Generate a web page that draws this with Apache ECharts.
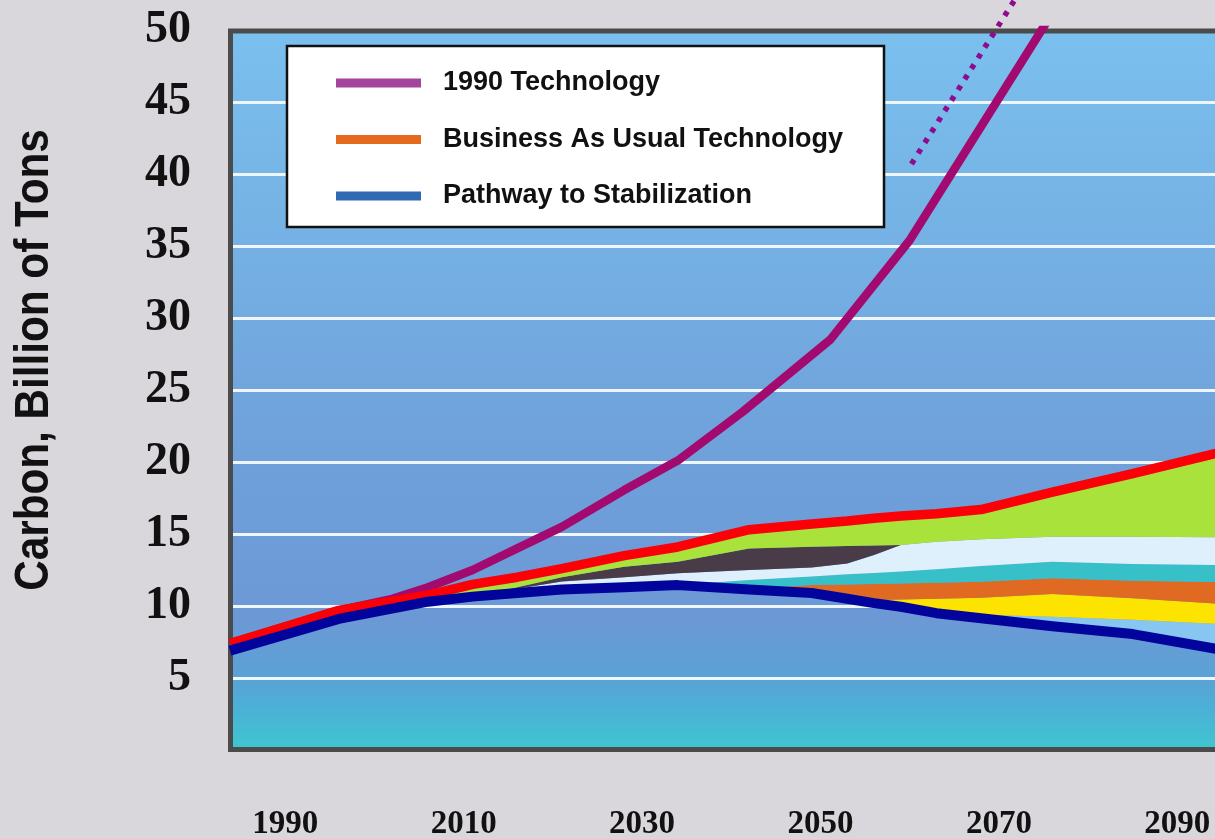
<!DOCTYPE html>
<html>
<head>
<meta charset="utf-8">
<script src="https://cdn.jsdelivr.net/npm/echarts@6/dist/echarts.min.js"></script>
<style>
html,body{margin:0;padding:0;background:#d9d6dc;}
#chart{width:1215px;height:839px;}
</style>
</head>
<body>
<div id="chart"></div>
<script>
// ---- data ----
const years      = [1983.8, 1996, 2006, 2011, 2016, 2021, 2028, 2034, 2042, 2049, 2053, 2056, 2059, 2063, 2068, 2076, 2085, 2095];
const pathway    = [6.9, 9.1, 10.3, 10.65, 10.9, 11.15, 11.3, 11.45, 11.15, 10.9, 10.5, 10.2, 9.95, 9.5, 9.15, 8.6, 8.05, 6.95];
const lightTop   = [6.9, 9.1, 10.3, 10.65, 10.9, 11.15, 11.3, 11.45, 11.15, 10.9, 10.5, 10.2, 10.0, 9.65, 9.4, 9.25, 9.05, 8.75];
const yellowTop  = [6.9, 9.1, 10.3, 10.65, 10.9, 11.15, 11.3, 11.45, 11.15, 10.9, 10.5, 10.42, 10.46, 10.5, 10.58, 10.83, 10.53, 10.15];
const orangeTop  = [6.9, 9.1, 10.3, 10.65, 10.9, 11.15, 11.3, 11.45, 11.2, 11.45, 11.5, 11.53, 11.57, 11.62, 11.69, 11.92, 11.76, 11.65];
const tealTop    = [6.9, 9.1, 10.3, 10.65, 10.9, 11.15, 11.3, 11.45, 11.8, 12.05, 12.2, 12.3, 12.4, 12.55, 12.78, 13.08, 12.92, 12.85];
const paleTop    = [6.9, 9.1, 10.3, 10.65, 11.2, 11.7, 12.0, 12.27, 12.5, 12.68, 12.96, 13.54, 14.24, 14.47, 14.63, 14.81, 14.81, 14.77];
const darkTop    = [6.9, 9.1, 10.3, 10.65, 11.3, 12.0, 12.73, 13.08, 14.0, 14.12, 14.17, 14.2, 14.24, 14.47, 14.63, 14.81, 14.81, 14.77];
const bauTop     = [7.4, 9.7, 10.76, 11.5, 12.0, 12.6, 13.5, 14.1, 15.3, 15.7, 15.9, 16.1, 16.25, 16.4, 16.7, 17.9, 19.2, 20.7];

const techYears  = [1983.8, 1996, 2002, 2006, 2011, 2016, 2021, 2028, 2034, 2041.3, 2051.1, 2060, 2075.5];
const techValues = [7.4, 9.7, 10.5, 11.3, 12.5, 14.0, 15.5, 18.05, 20.1, 23.5, 28.5, 35.4, 50.7];

const trendYears  = [2060.2, 2073.2];
const trendValues = [40.7, 53.5];

const xTicks = [1990, 2010, 2030, 2050, 2070, 2090];
const legendNames = ['1990 Technology', 'Business As Usual Technology', 'Pathway to Stabilization'];
const bandNames = ['Light', 'Yellow', 'Orange', 'Teal', 'Pale', 'Dark', 'Green'];

// ---- styles ----
const bandColors = ['#86c6f0', '#fde300', '#e06a22', '#37c0c8', '#ddf0fb', '#4a3b48', '#a8e23a'];
const legendColors = ['#a4449a', '#e46b1e', '#2f6bb3'];

const pairs = (xs, ys) => xs.map((x, i) => [x, ys[i]]);
// value first, year second: the stacked dimension is the value
const stackPairs = (xs, ys) => xs.map((x, i) => [ys[i], x]);
const bounds = [pathway, lightTop, yellowTop, orangeTop, tealTop, paleTop, darkTop, bauTop];

const series = [{
  name: 'base', type: 'line', stack: 'bands', data: stackPairs(years, pathway), encode: { x: 1, y: 0 },
  symbol: 'none', lineStyle: { width: 0, opacity: 0 }, silent: true, z: 2
}];
for (let b = 1; b < bounds.length; b++) {
  const thick = years.map((_, i) => Math.max(0, +(bounds[b][i] - bounds[b - 1][i]).toFixed(3)));
  series.push({
    name: bandNames[b - 1], type: 'line', stack: 'bands', data: stackPairs(years, thick), encode: { x: 1, y: 0 },
    symbol: 'none', lineStyle: { width: 0, opacity: 0 },
    areaStyle: { color: bandColors[b - 1], opacity: 1 }, silent: true, z: 2
  });
}
series.push({
  name: legendNames[0], type: 'line', data: pairs(techYears, techValues), symbol: 'none',
  lineStyle: { color: '#a20a70', width: 8.5, join: 'round' }, itemStyle: { color: legendColors[0] }, z: 3
});
series.push({
  name: legendNames[1], type: 'line', data: pairs(years, bauTop), symbol: 'none',
  lineStyle: { color: '#fb0006', width: 9.5, join: 'round' }, itemStyle: { color: legendColors[1] }, z: 4
});
series.push({
  name: legendNames[2], type: 'line', data: pairs(years, pathway), symbol: 'none',
  lineStyle: { color: '#02049c', width: 10, join: 'round' }, itemStyle: { color: legendColors[2] }, z: 5
});
series.push({
  name: 'trend', type: 'line', data: pairs(trendYears, trendValues), symbol: 'none', clip: false,
  lineStyle: { color: '#8e0a8e', width: 5.5, type: [5, 7.5] }, z: 5
});

const chart = echarts.init(document.getElementById('chart'), null, { renderer: 'canvas' });
const bg = new echarts.graphic.LinearGradient(0, 0, 0, 1, [
  { offset: 0, color: '#7ac0ee' },
  { offset: 0.35, color: '#74aee2' },
  { offset: 0.6, color: '#6fa0da' },
  { offset: 0.82, color: '#6c99d6' },
  { offset: 0.9, color: '#5aa2d6' },
  { offset: 0.94, color: '#4cb0d6' },
  { offset: 1, color: '#3ec6d0' }
]);

chart.setOption({
  animation: false,
  backgroundColor: '#d9d6dc',
  grid: { left: 230, top: 30, width: 1036.5, height: 720, containLabel: false, outerBoundsMode: 'none' },
  xAxis: {
    type: 'value', min: 1983.8, max: 2100,
    axisLine: { show: false }, axisTick: { show: false }, splitLine: { show: false },
    axisLabel: {
      customValues: xTicks, margin: 58, formatter: v => String(v),
      fontFamily: 'Liberation Serif', fontWeight: 'bold', fontSize: 33, color: '#111'
    }
  },
  yAxis: {
    type: 'value', min: 0, max: 50, interval: 5,
    axisLine: { show: false }, axisTick: { show: false },
    splitLine: { show: true, lineStyle: { color: '#eef6f9', width: 3 } },
    axisLabel: {
      margin: 39, fontFamily: 'Liberation Serif', fontWeight: 'bold', fontSize: 46, color: '#111',
      formatter: v => (v === 0 ? '' : String(v))
    }
  },
  legend: {
    orient: 'vertical', left: 336, top: 68, padding: 0,
    itemWidth: 85, itemHeight: 9, itemGap: 26.5, icon: 'rect', selectedMode: false, z: 20,
    data: legendNames.map((n, i) => ({ name: n, itemStyle: { color: legendColors[i] } })),
    textStyle: {
      fontFamily: 'Liberation Sans', fontWeight: 'bold', fontSize: 27, color: '#111',
      lineHeight: 30, padding: [0, 0, 0, 17]
    }
  },
  graphic: { elements: [
    { type: 'rect', z: -10, shape: { x: 230, y: 30, width: 1040, height: 720 }, style: { fill: bg } },
    { type: 'rect', z: 1, shape: { x: 230.5, y: 31, width: 1050, height: 718.5 },
      style: { fill: null, stroke: '#4b4b4b', lineWidth: 5 } },
    { type: 'rect', z: 15, shape: { x: 287, y: 46, width: 597, height: 181 },
      style: { fill: '#ffffff', stroke: '#111111', lineWidth: 2.5 } },
    { type: 'text', z: 15, x: 35, y: 360, rotation: Math.PI / 2, scaleX: 0.88,
      style: { text: 'Carbon, Billion of Tons', fontFamily: 'Liberation Sans', fontWeight: 'bold',
               fontSize: 48, fill: '#111', align: 'center', verticalAlign: 'middle' } }
  ]},
  series: series
});
</script>
</body>
</html>
